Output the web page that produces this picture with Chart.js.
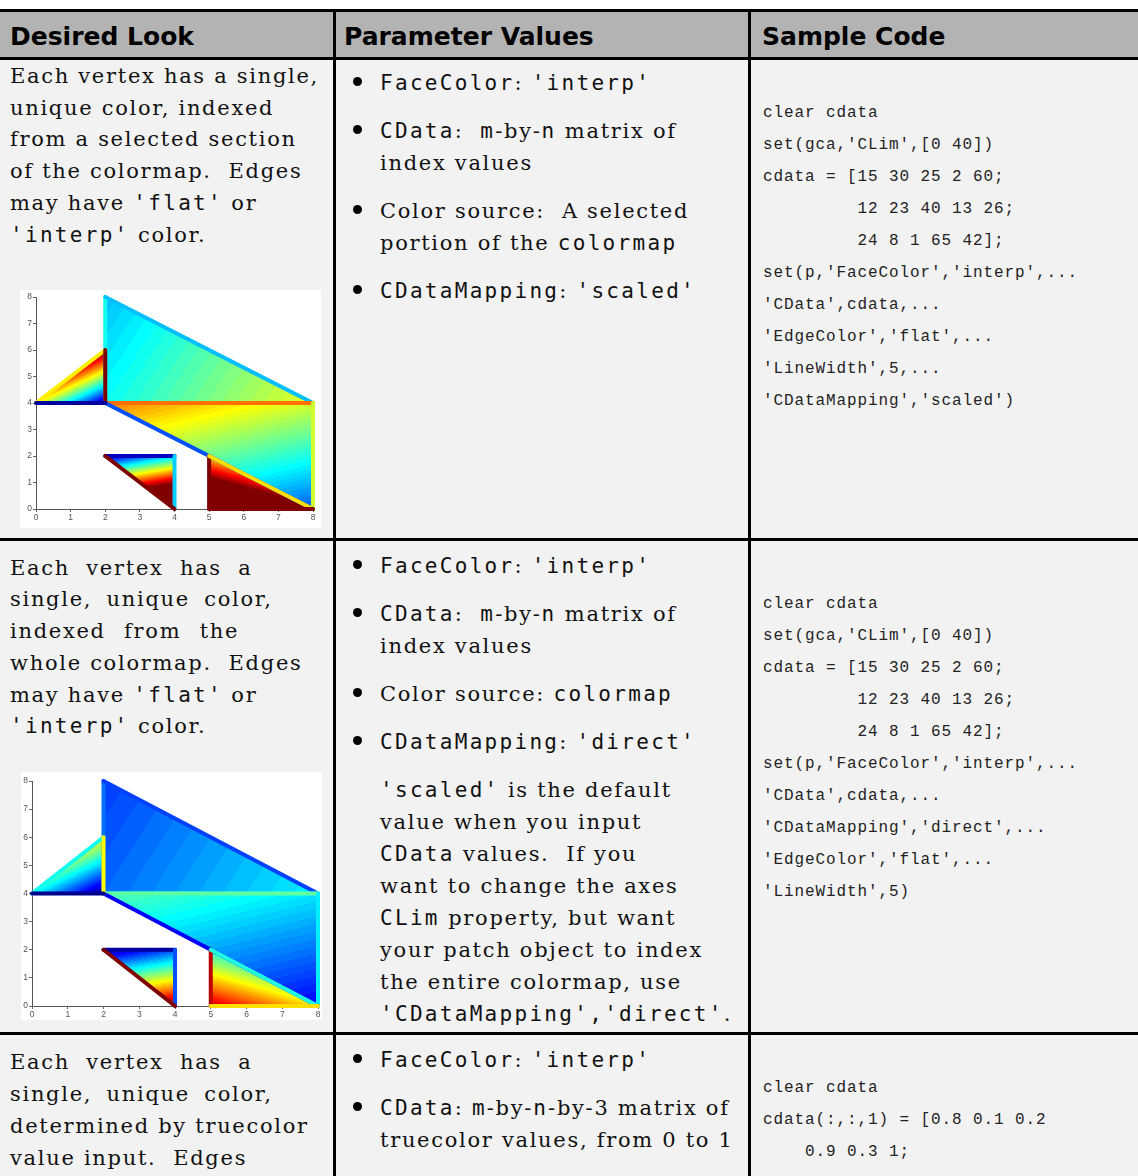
<!DOCTYPE html>
<html><head><meta charset="utf-8">
<script src="https://cdn.jsdelivr.net/npm/chart.js@4.4.0/dist/chart.umd.min.js"></script>
<style>
html,body{margin:0;padding:0;background:#fff;}
#page{position:relative;width:1138px;height:1176px;overflow:hidden;background:#fff;}
.bg{position:absolute;}
.hl{position:absolute;left:0;width:1138px;height:3px;background:#000;}
.vl{position:absolute;top:9px;width:3px;height:1167px;background:#000;}
.t{position:absolute;white-space:pre;font-family:'DejaVu Serif';font-size:21px;letter-spacing:1.7px;line-height:32px;color:#111;}
.m{font-family:'DejaVu Sans Mono';letter-spacing:2.3px;}
.code{position:absolute;white-space:pre;font-family:'Liberation Mono';font-size:16px;letter-spacing:0.9px;line-height:32px;color:#222;}
.hd{position:absolute;white-space:pre;font-family:'DejaVu Sans';font-weight:bold;font-size:25px;line-height:45px;color:#000;}
.dot{position:absolute;width:9px;height:9px;border-radius:50%;background:#000;}
.plot{position:absolute;background:#fff;}
</style></head>
<body>
<div id="page">
  <div class="bg" style="left:0;top:12px;width:1138px;height:45px;background:#b3b3b3"></div>
  <div class="bg" style="left:0;top:60px;width:1138px;height:1116px;background:#f2f2f2"></div>
  <div class="hl" style="top:9px"></div>
  <div class="hl" style="top:57px"></div>
  <div class="hl" style="top:538px"></div>
  <div class="hl" style="top:1032px"></div>
  <div class="vl" style="left:333px"></div>
  <div class="vl" style="left:748px"></div>
  <div class="plot" style="left:20px;top:290px;width:301px;height:238px"><canvas id="c1" width="301" height="238"></canvas></div>
  <div class="plot" style="left:21px;top:772px;width:301px;height:248px"><canvas id="c2" width="301" height="248"></canvas></div>
</div>
<script>
// ---- chart data (MATLAB patch example) ----
const xdata = [[2,2,0,2,5],[2,8,2,4,5],[8,8,2,4,8]];
const ydata = [[4,4,4,2,0],[8,4,6,2,2],[4,0,4,0,0]];
const cdata = [[15,30,25,2,60],[12,23,40,13,26],[24,8,1,65,42]];
const axisTicks = [0,1,2,3,4,5,6,7,8];
const climScaled = [0,40];
const climDirect = [1,65];
const mapSize = 64;

// ---- page text ----
const page = document.getElementById('page');
const M = s => '<span class="m">' + s + '</span>';
function addLine(html, left, baseline, cls, off, ws){
  const d = document.createElement('div');
  d.className = cls; d.style.left = left + 'px'; d.style.top = (baseline - off) + 'px';
  if (ws) d.style.wordSpacing = ws + 'px';
  d.innerHTML = html; page.appendChild(d); return d;
}
function addCode(txt, left, baseline){
  const d = document.createElement('div');
  d.className = 'code'; d.style.left = left + 'px'; d.style.top = (baseline - 20.3) + 'px';
  d.textContent = txt; page.appendChild(d);
}
const TOFF = 23.3;
addLine('Desired Look', 10, 45, 'hd', 31.2);
addLine('Parameter Values', 344, 45, 'hd', 31.2);
addLine('Sample Code', 762, 45, 'hd', 31.2);

const col1 = [
  [83, 31.8, ['Each vertex has a single,', 'unique color, indexed', 'from a selected section', 'of the colormap.  Edges', 'may have ' + M("'flat'") + ' or', M("'interp'") + ' color.'], [0,0,0,0,0,0]],
  [575, 31.7, ['Each vertex has a', 'single, unique color,', 'indexed from the', 'whole colormap.  Edges', 'may have ' + M("'flat'") + ' or', M("'interp'") + ' color.'], [8,6,10,0,0,0]],
  [1069, 32, ['Each vertex has a', 'single, unique color,', 'determined by truecolor', 'value input.  Edges'], [8,6,0,0]]
];
col1.forEach(([b0, step, lines, ws]) => lines.forEach((l, i) => addLine(l, 10, b0 + i * step, 't', TOFF, ws[i])));

function bullets(items){
  items.forEach(([b, lines]) => {
    const dot = document.createElement('div'); dot.className = 'dot';
    dot.style.left = '353px'; dot.style.top = (b - 13) + 'px'; page.appendChild(dot);
    lines.forEach((l, i) => addLine(l, 380, b + i * 32, 't', TOFF));
  });
}
bullets([
  [90, [M('FaceColor') + ': ' + M("'interp'")]],
  [138, [M('CData') + ':  ' + M('m') + '-by-' + M('n') + ' matrix of', 'index values']],
  [218, ['Color source:  A selected', 'portion of the ' + M('colormap')]],
  [298, [M('CDataMapping') + ': ' + M("'scaled'")]]
]);
bullets([
  [573, [M('FaceColor') + ': ' + M("'interp'")]],
  [621, [M('CData') + ':  ' + M('m') + '-by-' + M('n') + ' matrix of', 'index values']],
  [701, ['Color source: ' + M('colormap')]],
  [749, [M('CDataMapping') + ': ' + M("'direct'")]]
]);
['' + M("'scaled'") + ' is the default', 'value when you input', M('CData') + ' values.  If you', 'want to change the axes',
 M('CLim') + ' property, but want', 'your patch object to index', 'the entire colormap, use', M("'CDataMapping','direct'") + '.']
 .forEach((l, i) => addLine(l, 380, 797 + i * 32, 't', TOFF));
bullets([
  [1067, [M('FaceColor') + ': ' + M("'interp'")]],
  [1115, [M('CData') + ': ' + M('m') + '-by-' + M('n') + '-by-3 matrix of', 'truecolor values, from 0 to 1']]
]);

const code1 = ["clear cdata","set(gca,'CLim',[0 40])","cdata = [15 30 25 2 60;","         12 23 40 13 26;","         24 8 1 65 42];",
  "set(p,'FaceColor','interp',...","'CData',cdata,...","'EdgeColor','flat',...","'LineWidth',5,...","'CDataMapping','scaled')"];
const code2 = ["clear cdata","set(gca,'CLim',[0 40])","cdata = [15 30 25 2 60;","         12 23 40 13 26;","         24 8 1 65 42];",
  "set(p,'FaceColor','interp',...","'CData',cdata,...","'CDataMapping','direct',...","'EdgeColor','flat',...","'LineWidth',5)"];
const code3 = ["clear cdata","cdata(:,:,1) = [0.8 0.1 0.2","    0.9 0.3 1;"];
code1.forEach((l, i) => addCode(l, 763, 117 + i * 32));
code2.forEach((l, i) => addCode(l, 763, 608 + i * 32));
code3.forEach((l, i) => addCode(l, 763, 1092 + i * 32));

// ---- jet colormap ----
function jet(m){
  const n = Math.ceil(m / 4), u = [];
  for (let i = 1; i <= n; i++) u.push(i / n);
  for (let i = 1; i < n; i++) u.push(1);
  for (let i = n; i >= 1; i--) u.push(i / n);
  const g0 = Math.ceil(n / 2) - (m % 4 === 1 ? 1 : 0);
  const J = Array.from({length: m}, () => [0, 0, 0]);
  u.forEach((v, k) => {
    const g = g0 + k + 1, r = g + n, b = g - n;
    if (r <= m) J[r - 1][0] = v;
    if (g <= m) J[g - 1][1] = v;
    if (b >= 1 && b <= m) J[b - 1][2] = v;
  });
  return J;
}
const JET = jet(mapSize);
const rgb = c => 'rgb(' + Math.round(c[0]*255) + ',' + Math.round(c[1]*255) + ',' + Math.round(c[2]*255) + ')';
function colorAt(c, clim){
  const u = (c - clim[0]) / (clim[1] - clim[0]);
  const k = Math.max(0, Math.min(mapSize - 1, Math.floor(u * mapSize)));
  return rgb(JET[k]);
}
function faceGradient(chart, j, clim){
  if (!chart.chartArea) return 'rgba(0,0,0,0)';
  const xs = chart.scales.x, ys = chart.scales.y;
  const P = [0,1,2].map(i => [xs.getPixelForValue(xdata[i][j]), ys.getPixelForValue(ydata[i][j])]);
  const U = [0,1,2].map(i => (cdata[i][j] - clim[0]) / (clim[1] - clim[0]));
  const e1 = [P[1][0]-P[0][0], P[1][1]-P[0][1]], e2 = [P[2][0]-P[0][0], P[2][1]-P[0][1]];
  const d1 = U[1]-U[0], d2 = U[2]-U[0];
  const det = e1[0]*e2[1] - e1[1]*e2[0];
  const gx = (d1*e2[1] - d2*e1[1]) / det, gy = (e1[0]*d2 - e2[0]*d1) / det;
  const gg = gx*gx + gy*gy;
  if (!isFinite(gg) || gg < 1e-12) return colorAt(cdata[0][j], clim);
  const s = -U[0] / gg, e = (1 - U[0]) / gg;
  const grad = chart.ctx.createLinearGradient(P[0][0]+gx*s, P[0][1]+gy*s, P[0][0]+gx*e, P[0][1]+gy*e);
  for (let k = 0; k < mapSize; k++){ const col = rgb(JET[k]); grad.addColorStop(k/mapSize, col); grad.addColorStop((k+1)/mapSize, col); }
  return grad;
}

function makeChart(id, clim, box){
  const datasets = [];
  for (let j = 0; j < 5; j++){
    datasets.push({
      data: [0,1,2].map(i => ({x: xdata[i][j], y: ydata[i][j]})),
      fill: 'shape', borderWidth: 0, borderColor: 'rgba(0,0,0,0)',
      backgroundColor: ctx => faceGradient(ctx.chart, j, clim),
      pointRadius: 0, tension: 0, order: 100, clip: false
    });
  }
  for (let j = 0; j < 5; j++){
    datasets.push({
      data: [0,1,2,0].map(i => ({x: xdata[i][j], y: ydata[i][j]})),
      fill: false, borderWidth: 4, borderColor: colorAt(cdata[0][j], clim),
      segment: {borderColor: s => colorAt(cdata[s.p0DataIndex % 3][j], clim)},
      borderCapStyle: 'round', borderJoinStyle: 'round',
      pointRadius: 0, tension: 0, order: 50 - j, clip: false
    });
  }
  const axisCommon = {
    type: 'linear', min: 0, max: 8,
    afterBuildTicks: s => { s.ticks = axisTicks.map(v => ({value: v})); },
    grid: {drawOnChartArea: false, drawTicks: true, tickLength: 3, color: '#666'},
    border: {color: '#555', width: 1},
    ticks: {font: {size: 8.5, family: 'Arial'}, color: '#555', padding: 1, autoSkip: false, maxRotation: 0}
  };
  new Chart(document.getElementById(id), {
    type: 'line',
    data: {datasets},
    options: {
      responsive: false, animation: false, events: [],
      layout: {padding: box.pad},
      plugins: {legend: {display: false}, tooltip: {enabled: false}, filler: {drawTime: 'beforeDatasetsDraw'}},
      scales: {
        x: Object.assign({}, axisCommon, {afterFit: s => { s.height = box.hx; }}),
        y: Object.assign({}, axisCommon, {afterFit: s => { s.width = box.wy; }})
      }
    }
  });
}
makeChart('c1', climScaled, {pad: {left: 3, right: 8, top: 7, bottom: 7}, hx: 12, wy: 13});
makeChart('c2', climDirect, {pad: {left: 1, right: 4, top: 9, bottom: 2}, hx: 12, wy: 10});
</script>
</body></html>
